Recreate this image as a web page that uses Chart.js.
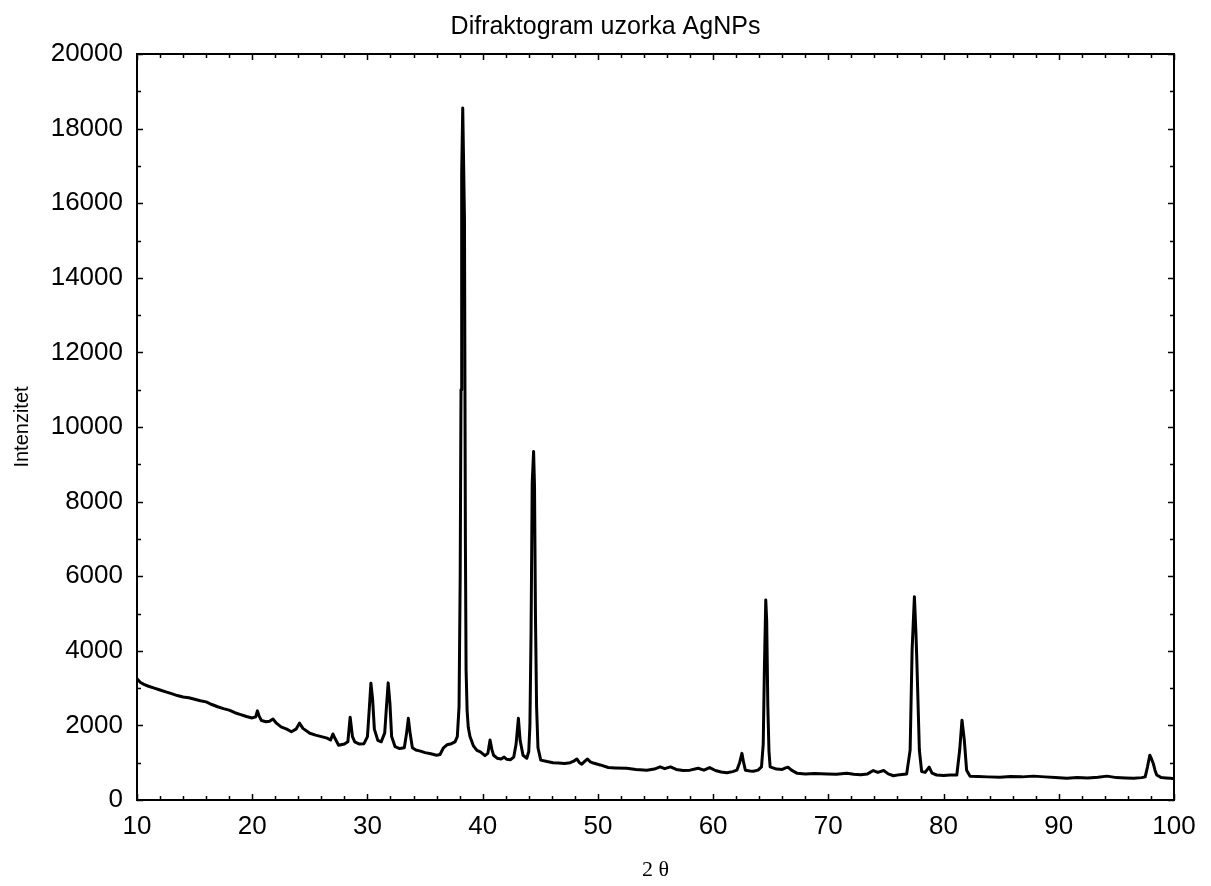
<!DOCTYPE html>
<html>
<head>
<meta charset="utf-8">
<script src="https://cdn.jsdelivr.net/npm/chart.js@4"></script>
<style>
  html, body { margin: 0; padding: 0; background: #ffffff; }
  #wrap { width: 1211px; height: 886px; }
</style>
</head>
<body>
<div id="wrap"><canvas id="c" width="1211" height="886"></canvas></div>
<script>
const chartTitle = "Difraktogram uzorka AgNPs";
const xTitle = "2 θ";
const yTitle = "Intenzitet";

const twoTheta = [
  10, 10.3, 10.6, 11, 11.5, 12, 12.5, 13, 13.5, 14, 14.5, 15, 15.5, 16, 16.5, 17, 17.5, 18, 18.5, 19, 19.5,
  20, 20.3, 20.45, 20.6, 20.8, 21.2, 21.5, 21.8, 22.1, 22.5, 23, 23.4, 23.8, 24.1, 24.4, 25, 25.5, 26, 26.5,
  26.8, 27.0, 27.2, 27.5, 28.0, 28.3, 28.5, 28.7, 28.9, 29.3, 29.7, 30.0, 30.15, 30.3, 30.45, 30.6, 30.9,
  31.2, 31.5, 31.65, 31.8, 31.95, 32.1, 32.4, 32.8, 33.2, 33.4, 33.55, 33.7, 33.9, 34.2, 34.6, 35, 35.5, 36,
  36.3, 36.6, 36.9, 37.2, 37.6, 37.8, 37.95, 38.05, 38.12, 38.18, 38.27, 38.35, 38.42, 38.5, 38.56, 38.65,
  38.75, 38.9, 39.2, 39.5, 39.8, 40.2, 40.45, 40.64, 40.8, 40.95, 41.25, 41.6, 41.86, 42.1, 42.4, 42.7, 42.9,
  43.1, 43.25, 43.5, 43.83, 44.0, 44.1, 44.2, 44.3, 44.42, 44.5, 44.58, 44.68, 44.8, 45.04, 45.6, 46.1, 46.6,
  47.1, 47.6, 47.9, 48.17, 48.4, 48.6, 48.9, 49.1, 49.35, 49.6, 50.2, 50.9, 51.5, 52.5, 53.3, 54.25, 54.9,
  55.4, 55.8, 56.3, 56.8, 57.4, 58.0, 58.7, 59.2, 59.7, 60.2, 60.7, 61.2, 61.7, 62.06, 62.3, 62.5, 62.65,
  62.8, 63.2, 63.5, 63.9, 64.2, 64.35, 64.45, 64.57, 64.65, 64.75, 64.85, 64.95, 65.5, 66.0, 66.3, 66.5,
  66.8, 67.3, 68.0, 68.8, 69.9, 70.7, 71.6, 72.2, 72.8, 73.4, 73.9, 74.3, 74.8, 75.2, 75.65, 76.2, 76.8,
  77.1, 77.27, 77.47, 77.6, 77.68, 77.9, 78.1, 78.4, 78.75, 79.0, 79.4, 80.0, 80.6, 81.15, 81.4, 81.6, 81.8,
  82.0, 82.3, 83.0, 83.8, 84.9, 85.8, 86.8, 87.8, 88.8, 89.7, 90.7, 91.6, 92.5, 93.4, 94.2, 95.0, 95.8,
  96.5, 97.2, 97.5, 97.7, 97.9, 98.05, 98.2, 98.35, 98.5, 98.9, 99.3, 99.7, 100
];

const intensity = [
  3250, 3150, 3100, 3050, 3000, 2950, 2900, 2850, 2800, 2760, 2740, 2700, 2660, 2630, 2560, 2500, 2450, 2410, 2340, 2290, 2240,
  2200, 2230, 2390, 2250, 2130, 2100, 2110, 2170, 2060, 1960, 1900, 1830, 1900, 2060, 1920, 1790, 1740, 1700, 1660,
  1610, 1770, 1640, 1470, 1500, 1560, 2220, 1700, 1560, 1500, 1510, 1700, 2400, 3130, 2700, 1900, 1600,
  1560, 1800, 2500, 3140, 2600, 1700, 1430, 1380, 1400, 1800, 2190, 1800, 1400, 1340, 1310, 1270, 1240, 1200,
  1220, 1400, 1480, 1500, 1560, 1700, 2500, 6000, 11000, 16800, 18550, 17000, 15600, 7000, 3500, 2400,
  1950, 1700, 1450, 1330, 1290, 1190, 1250, 1610, 1350, 1200, 1120, 1100, 1150, 1090, 1080, 1150, 1500,
  2190, 1600, 1200, 1120, 1300, 2000, 4500, 8490, 9340, 8400, 5000, 2500, 1400, 1070, 1030, 1000, 990,
  980, 1000, 1040, 1100, 1000, 960, 1050, 1100, 1020, 990, 940, 870, 860, 850, 820, 800, 830,
  890, 840, 890, 820, 790, 800, 850, 800, 870, 790, 750, 730, 760, 800, 1000, 1250, 1000,
  800, 780, 770, 800, 890, 1500, 3500, 5360, 4800, 2500, 1300, 890, 830, 820, 860, 880,
  800, 715, 700, 710, 700, 690, 715, 690, 675, 700, 790, 740, 790, 700, 650, 680, 700,
  1340, 4020, 5450, 4500, 3750, 1340, 760, 740, 880, 720, 670, 660, 670, 670, 1340, 2140, 1610,
  800, 640, 630, 620, 610, 630, 620, 640, 620, 600, 580, 600, 590, 610, 640, 600, 590,
  580, 600, 620, 890, 1200, 1100, 980, 800, 670, 600, 590, 580, 570
];

const xMin = 10, xMax = 100, xStep = 10, xMinorStep = 2;
const yMin = 0, yMax = 20000, yStep = 2000, yMinorStep = 1000;

const SANS = '"Liberation Sans", Arial, Helvetica, sans-serif';
const SERIF = '"Liberation Serif", "Times New Roman", serif';

const points = twoTheta.map((t, i) => ({ x: t, y: intensity[i] }));

const frameTicks = {
  id: 'frameTicks',
  afterDraw(chart) {
    const { ctx, chartArea: a } = chart;
    const xs = chart.scales.x, ys = chart.scales.y;
    ctx.save();
    ctx.strokeStyle = '#000';
    ctx.lineWidth = 1.5;
    ctx.beginPath();
    for (let v = xMin; v <= xMax + 1e-9; v += xMinorStep) {
      const major = Math.abs((v - xMin) % xStep) < 1e-9;
      const len = major ? 6 : 4;
      const px = Math.round(xs.getPixelForValue(v)) + 0.5;
      ctx.moveTo(px, a.bottom); ctx.lineTo(px, a.bottom - len);
      ctx.moveTo(px, a.top); ctx.lineTo(px, a.top + len);
    }
    for (let v = yMin; v <= yMax + 1e-9; v += yMinorStep) {
      const major = Math.abs((v - yMin) % yStep) < 1e-9;
      const len = major ? 6 : 4;
      const py = Math.round(ys.getPixelForValue(v)) + 0.5;
      ctx.moveTo(a.left, py); ctx.lineTo(a.left + len, py);
      ctx.moveTo(a.right, py); ctx.lineTo(a.right - len, py);
    }
    ctx.stroke();
    ctx.lineWidth = 2;
    ctx.strokeRect(a.left, a.top, a.right - a.left, a.bottom - a.top);
    ctx.restore();
  }
};

new Chart(document.getElementById('c'), {
  type: 'line',
  data: {
    datasets: [{
      data: points,
      borderColor: '#000000',
      borderWidth: 3,
      pointRadius: 0,
      tension: 0,
      borderJoinStyle: 'round',
      fill: false
    }]
  },
  options: {
    responsive: false,
    animation: false,
    layout: { padding: 0 },
    plugins: {
      legend: { display: false },
      tooltip: { enabled: false },
      title: {
        display: true,
        text: chartTitle,
        color: '#000',
        font: { family: SANS, size: 25, weight: 'normal', lineHeight: 1.2 },
        padding: { top: 12, bottom: 12 }
      }
    },
    scales: {
      x: {
        type: 'linear',
        position: 'bottom',
        min: xMin, max: xMax,
        grid: { display: false, drawTicks: false },
        border: { display: false },
        ticks: { stepSize: xStep, color: '#000', padding: 11, maxRotation: 0,
                 font: { family: SANS, size: 26 },
                 callback: (v) => String(v) },
        title: { display: true, text: xTitle, color: '#000',
                 font: { family: SERIF, size: 22 }, padding: { top: 0, bottom: 3 } },
        afterFit(scale) { scale.height = 86; }
      },
      y: {
        type: 'linear',
        position: 'left',
        min: yMin, max: yMax,
        grid: { display: false, drawTicks: false },
        border: { display: false },
        ticks: { stepSize: yStep, color: '#000', padding: 14,
                 font: { family: SANS, size: 26 },
                 callback: (v) => String(v) },
        title: { display: true, text: yTitle, color: '#000',
                 font: { family: SANS, size: 20 }, padding: { top: 10, bottom: 0 } },
        afterFit(scale) { scale.width = 137; }
      },
      yRight: {
        type: 'linear',
        position: 'right',
        min: yMin, max: yMax,
        grid: { display: false, drawTicks: false },
        border: { display: false },
        ticks: { display: false },
        afterFit(scale) { scale.width = 37; }
      }
    }
  },
  plugins: [frameTicks]
});
</script>
</body>
</html>
